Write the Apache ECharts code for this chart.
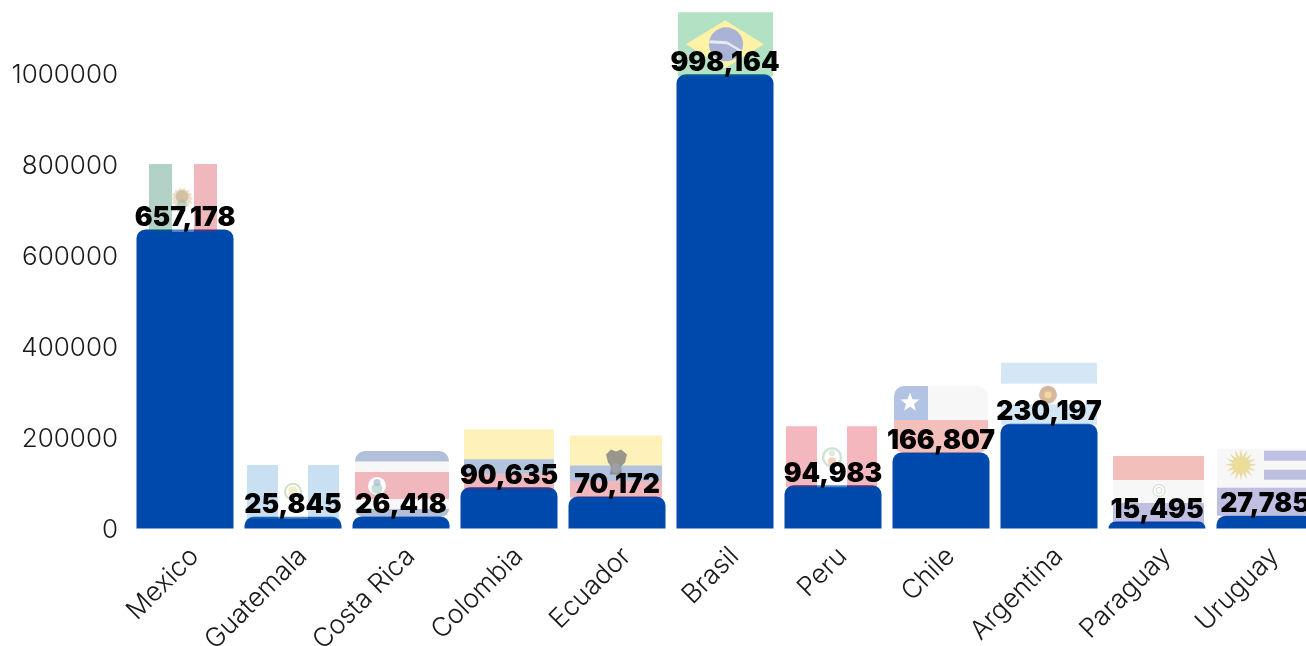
<!DOCTYPE html>
<html><head><meta charset="utf-8">
<script src="https://cdn.jsdelivr.net/npm/echarts@6/dist/echarts.min.js"></script>
<style>html,body{margin:0;padding:0;background:#fff;overflow:hidden}#c{width:1306px;height:646px}</style>
</head><body><div id="c"></div>
<script>
const countries = ['Mexico','Guatemala','Costa Rica','Colombia','Ecuador','Brasil','Peru','Chile','Argentina','Paraguay','Uruguay'];
const totals = [657178,25845,26418,90635,70172,998164,94983,166807,230197,15495,27785];
const yTicks = [0,200000,400000,600000,800000,1000000];

const FONT = 'Inter';
const BLUE = '#0049ac';
const OP = 0.3;

// decoration helpers: every offset is relative to the bar's centre and top
const r = (x0,y0,x1,y1,c,rad,a) => ({k:'r',x0,y0,x1,y1,c,rad,a});
const o = (x,y,rad,c,a) => ({k:'c',x,y,rad,c,a});
const ring = (x,y,rad,c,w,a) => ({k:'o',x,y,rad,c,w,a});
const poly = (pts,c,a) => ({k:'p',pts,c,a});
const sun = (x,y,r0,r1,n,c,a) => { const p=[]; for(let i=0;i<n*2;i++){const t=i*Math.PI/n, q=i%2?r0:r1; p.push([x+q*Math.cos(t),y+q*Math.sin(t)]);} return poly(p,c,a); };
const star = (x,y,r1,c,a) => { const p=[]; for(let i=0;i<10;i++){const t=-Math.PI/2+i*Math.PI/5, q=i%2?r1*0.42:r1; p.push([x+q*Math.cos(t),y+q*Math.sin(t)]);} return poly(p,c,a); };

const W='#ffffff', G='#e4e4e4';
const FLAGS = {
 Mexico:[r(-36,-65.5,-13,2.5,'#006847'),r(-13,-65.5,9,2.5,W),r(9,-65.5,32,2.5,'#ce1126'),
   sun(-3,-31,9,11,14,'#e8d8c0',0.8),o(-3,-33,6.5,'#b89878',0.45),o(-3,-25,5,'#90b8b0',0.45)],
 Guatemala:[r(-46,-51.7,-15,2,'#4997d0'),r(-15,-51.7,15,2,W),r(15,-51.7,46,2,'#4997d0'),
   ring(0,-25,8,'#a0c090',2,0.5),o(0,-26,4.5,'#f0e4b0',0.7)],
 'Costa Rica':[r(-46,-65.5,48,-55,'#002b7f',[10,10,0,0]),r(-46,-55,48,-44.5,G),r(-46,-44.5,48,-17.5,'#ce1126'),r(-46,-17.5,48,-7.5,G),r(-46,-7.5,48,0,'#002b7f',[0,0,8,8]),
   o(-24,-30.5,9,W,1),o(-24,-28,5.5,'#90c8b0',0.55),o(-24,-34,3.5,'#a8b8d8',0.7)],
 Colombia:[r(-45,-58,45,-28,'#fcd116'),r(-45,-28,45,-13.5,'#003893'),r(-45,-13.5,45,2,'#ce1126')],
 Ecuador:[r(-47,-61,45,-31,'#fcd116'),r(-47,-31,45,-15.5,'#003893'),r(-47,-15.5,45,1,'#ce1126'),
   poly([[-11,-42],[-6,-47],[-1,-45],[4,-47],[10,-42],[8,-34],[4,-30],[5,-22],[-7,-22],[-6,-30],[-9,-34]],'#808080',0.8),
   o(-1,-28,5,'#a8a8b8',0.6)],
 Brasil:[r(-47,-62,48,2,'#009c3b'),
   poly([[0,-54],[39,-30],[0,-6],[-39,-30]],'#fdf2a6',1),
   o(1,-30,17,'#a9b3d6',1),poly([[-15,-34],[2,-33],[17,-24],[16,-22],[2,-30],[-16,-31]],'#e4ecf0',1)],
 Peru:[r(-47,-59,-16,2,'#d91023'),r(-16,-59,14,2,W),r(14,-59,44,2,'#d91023'),
   ring(-1,-28,9,'#b8d8c0',2.5,0.7),o(-1,-24,4,'#f0b090',0.6),o(-1,-32,3,'#c0e0c8',0.6)],
 Chile:[r(-47,-66.6,-13,-32.6,'#0039a6',[10,0,0,0]),r(-13,-66.6,47,-32.6,G,[0,10,0,0]),r(-47,-32.6,47,0.4,'#d52b1e',[0,0,10,10]),
   star(-31,-50,10,W,1)],
 Argentina:[r(-48,-61,48,-40,'#74acdf'),r(-48,-40,48,-19.5,W),r(-48,-19.5,48,1,'#74acdf'),
   o(-1,-29,9,'#d4b8a0',1),o(-1,-29,3.5,'#f4d898',1)],
 Paraguay:[r(-44,-65.5,47,-41.5,'#d52b1e'),r(-44,-41.5,47,-18.5,G),r(-44,-18.5,47,2,'#2b2a9c'),
   o(2,-31,7,W,1),ring(2,-31,6,'#c8d8c8',1.5,0.7),ring(2,-31,3,'#90c090',1,0.5)],
 Uruguay:[r(-48,-67,-1,-28,G),r(-1,-67,49,-65,G),r(-1,-55,49,-46,G),r(-1,-36,49,-28,G),r(-1,-65,49,-55,'#2b2a9c'),r(-1,-46,49,-36,'#2b2a9c'),r(-48,-28,49,0,'#2b2a9c'),
   sun(-24,-51,8,16,16,'#e6d690',0.85),o(-24,-51,8,'#eedd98',0.8)]
};

const chart = echarts.init(document.getElementById('c'), null, {renderer:'canvas'});

function renderFlag(params, api){
  const name = countries[api.value(0)];
  const pt = api.coord([api.value(0), api.value(1)]);
  const cx = pt[0], ty = pt[1];
  const children = FLAGS[name].map(s => {
    if(s.k==='r') return {type:'rect',shape:{x:cx+s.x0,y:ty+s.y0,width:s.x1-s.x0,height:s.y1-s.y0,r:s.rad||0},style:{fill:s.c,opacity:s.a==null?OP:s.a}};
    if(s.k==='c') return {type:'circle',shape:{cx:cx+s.x,cy:ty+s.y,r:s.rad},style:{fill:s.c,opacity:s.a}};
    if(s.k==='o') return {type:'circle',shape:{cx:cx+s.x,cy:ty+s.y,r:s.rad},style:{fill:'none',stroke:s.c,lineWidth:s.w,opacity:s.a}};
    return {type:'polygon',shape:{points:s.pts.map(p=>[cx+p[0],ty+p[1]])},style:{fill:s.c,opacity:s.a}};
  });
  return {type:'group',children};
}

chart.setOption({
  animation:false,
  backgroundColor:'#fff',
  grid:{left:131,top:12,width:1188,height:516.5,containLabel:false,outerBoundsMode:'none'},
  xAxis:{type:'category',data:countries,
    axisLine:{show:false},axisTick:{show:false},
    axisLabel:{interval:0,rotate:45,margin:14,align:'right',verticalAlign:'top',color:'#1a1a1a',fontFamily:FONT,fontSize:26.5,fontWeight:300}},
  yAxis:{type:'value',min:0,max:1135165,interval:yTicks[1],
    axisLine:{show:false},axisTick:{show:false},splitLine:{show:false},
    axisLabel:{showMaxLabel:false,margin:13,formatter:v=>'{v|'+v+'}',
      rich:{v:{padding:[4,0,0,0],color:'#1a1a1a',fontFamily:FONT,fontSize:26,fontWeight:300}}}},
  series:[
    {type:'bar',data:totals,barWidth:97,barGap:'-100%',z:1,silent:true,
     itemStyle:{color:BLUE,borderRadius:[9,9,0,0]}},
    {type:'custom',z:2,silent:true,clip:false,
     data:totals.map((v,i)=>[i,v]),encode:{x:0,y:1},renderItem:renderFlag},
    {type:'bar',data:totals,barWidth:97,barGap:'-100%',z:3,silent:true,
     itemStyle:{color:'rgba(0,0,0,0)'},
     label:{show:true,position:'top',distance:-2,color:'#000',fontFamily:FONT,fontSize:26.5,fontWeight:900,
       formatter:p=>p.value.toLocaleString('en-US')}}
  ]
});
</script></body></html>
